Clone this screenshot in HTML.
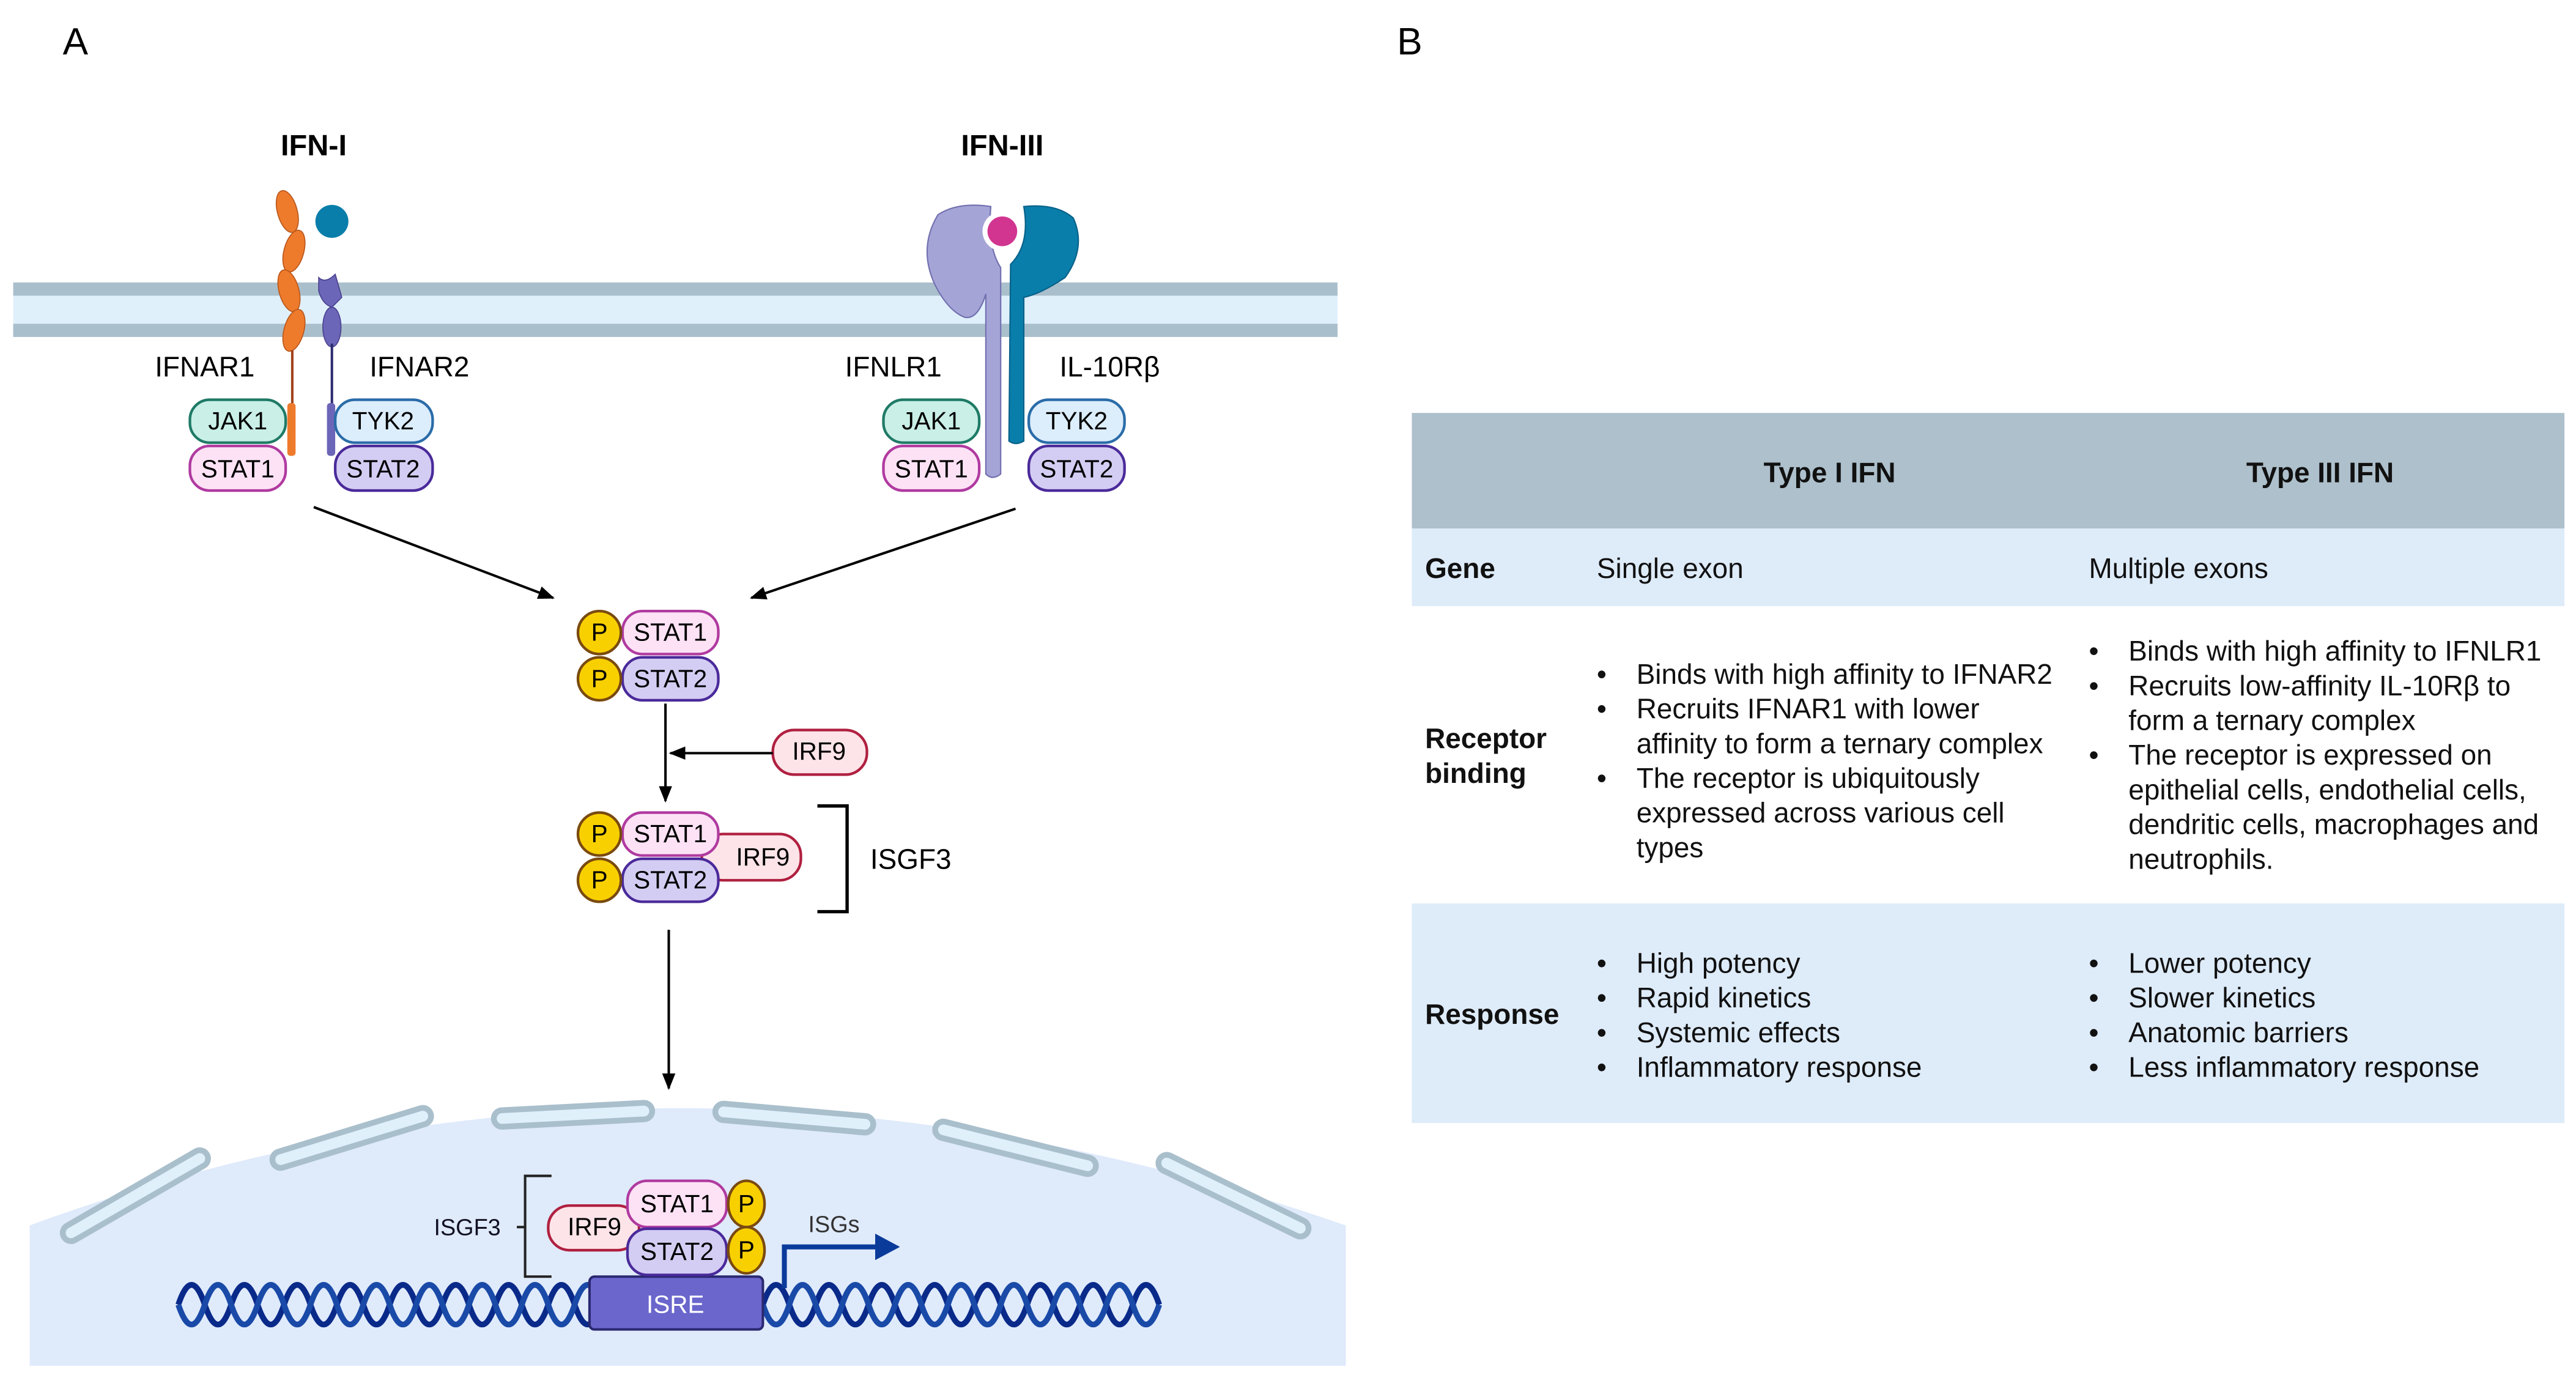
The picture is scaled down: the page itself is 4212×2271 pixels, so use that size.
<!DOCTYPE html>
<html><head><meta charset="utf-8"><style>
html,body{margin:0;padding:0;background:#fff;}
svg{display:block;}
text{font-family:"Liberation Sans",Arial,sans-serif;}
</style></head><body>
<svg width="4212" height="2271" viewBox="0 0 1560 841" xmlns="http://www.w3.org/2000/svg">
<defs>
<marker id="ah" markerWidth="10" markerHeight="8" refX="9" refY="4" orient="auto" markerUnits="userSpaceOnUse"><path d="M0,0 L10,4 L0,8 z" fill="#000"/></marker>
</defs>
<text x="38" y="33" font-size="23">A</text>
<text x="846" y="33" font-size="23">B</text>

<rect x="8" y="171" width="802" height="33" fill="#dff0fb"/>
<rect x="8" y="171" width="802" height="8" fill="#aabfcc"/>
<rect x="8" y="196" width="802" height="8" fill="#aabfcc"/>

<text x="190" y="94" font-size="18" font-weight="bold" text-anchor="middle">IFN-I</text>
<text x="607" y="94" font-size="18" font-weight="bold" text-anchor="middle">IFN-III</text>

<g fill="#ee7a2c" stroke="#b8561a" stroke-width="0.6">
<ellipse cx="174" cy="128" rx="6" ry="13" transform="rotate(-15 174 128)"/>
<ellipse cx="178" cy="152" rx="6" ry="13" transform="rotate(15 178 152)"/>
<ellipse cx="175" cy="176" rx="6" ry="13" transform="rotate(-15 175 176)"/>
<ellipse cx="178" cy="200" rx="6" ry="13" transform="rotate(15 178 200)"/>
</g>
<line x1="177" y1="212" x2="177" y2="275" stroke="#a0401a" stroke-width="1.5"/>
<rect x="174" y="244" width="5" height="32" rx="2" fill="#ee7a2c"/>
<circle cx="201" cy="134" r="10" fill="#0a7eaa"/>
<g fill="#6c66b8" stroke="#48408e" stroke-width="0.6">
<path d="M193,168 Q197,172 203,166 L207,180 L201,186 Q195,184 193,176 z"/>
<ellipse cx="201" cy="198" rx="5.5" ry="12"/>
</g>
<line x1="201" y1="208" x2="201" y2="275" stroke="#2c2a70" stroke-width="1.5"/>
<rect x="198" y="244" width="5" height="32" rx="2" fill="#6c66b8"/>

<text x="124" y="228" font-size="17" text-anchor="middle">IFNAR1</text>
<text x="254" y="228" font-size="17" text-anchor="middle">IFNAR2</text>

<g font-size="15" text-anchor="middle" stroke-width="1.6">
<rect x="115" y="242" width="58" height="26" rx="12" fill="#c9efe6" stroke="#1f7a66"/><text x="144" y="260">JAK1</text>
<rect x="115" y="270" width="58" height="27" rx="12" fill="#fde2f5" stroke="#b03aa0"/><text x="144" y="289">STAT1</text>
<rect x="203" y="242" width="59" height="26" rx="12" fill="#dcedfc" stroke="#2a6ca8"/><text x="232" y="260">TYK2</text>
<rect x="203" y="270" width="59" height="27" rx="12" fill="#d4cdf3" stroke="#4a2a9a"/><text x="232" y="289">STAT2</text>

<rect x="535" y="242" width="58" height="26" rx="12" fill="#c9efe6" stroke="#1f7a66"/><text x="564" y="260">JAK1</text>
<rect x="535" y="270" width="58" height="27" rx="12" fill="#fde2f5" stroke="#b03aa0"/><text x="564" y="289">STAT1</text>
<rect x="623" y="242" width="58" height="26" rx="12" fill="#dcedfc" stroke="#2a6ca8"/><text x="652" y="260">TYK2</text>
<rect x="623" y="270" width="58" height="27" rx="12" fill="#d4cdf3" stroke="#4a2a9a"/><text x="652" y="289">STAT2</text>
</g>

<path d="M597,195 L597,287 Q601,291 606,287 L606,162 Q598,150 600,125 Q580,122 568,130 Q556,150 566,172 Q574,188 584,192 Q592,194 597,178 z" fill="#a5a4d6" stroke="#7270b0" stroke-width="0.8"/>
<path d="M611,267 Q615,270 620,267 L620,180 Q630,178 645,168 Q658,150 650,132 Q640,123 620,125 Q624,148 612,160 z" fill="#0a7eaa" stroke="#07618a" stroke-width="0.8"/>
<circle cx="607" cy="140" r="12" fill="#fff"/>
<circle cx="607" cy="140" r="9" fill="#d13590"/>
<text x="541" y="228" font-size="17" text-anchor="middle">IFNLR1</text>
<text x="672" y="228" font-size="17" text-anchor="middle">IL-10Rβ</text>

<line x1="190" y1="307" x2="335" y2="362" stroke="#000" stroke-width="1.5" marker-end="url(#ah)"/>
<line x1="615" y1="308" x2="455" y2="362" stroke="#000" stroke-width="1.5" marker-end="url(#ah)"/>

<g font-size="15" text-anchor="middle" stroke-width="1.6">
<rect x="377" y="370" width="58" height="26" rx="12" fill="#fde2f5" stroke="#b03aa0"/><text x="406" y="388">STAT1</text>
<rect x="377" y="398" width="58" height="26" rx="12" fill="#d4cdf3" stroke="#4a2a9a"/><text x="406" y="416">STAT2</text>
<circle cx="363" cy="383" r="13" fill="#f8d000" stroke="#7a4a10"/><text x="363" y="388">P</text>
<circle cx="363" cy="411" r="13" fill="#f8d000" stroke="#7a4a10"/><text x="363" y="416">P</text>

<rect x="468" y="442" width="57" height="27" rx="13" fill="#fde4e8" stroke="#b02040"/><text x="496" y="460">IRF9</text>

<rect x="425" y="505" width="60" height="28" rx="13" fill="#fde4e8" stroke="#b02040"/><text x="462" y="524">IRF9</text>
<rect x="377" y="492" width="58" height="26" rx="12" fill="#fde2f5" stroke="#b03aa0"/><text x="406" y="510">STAT1</text>
<rect x="377" y="520" width="58" height="26" rx="12" fill="#d4cdf3" stroke="#4a2a9a"/><text x="406" y="538">STAT2</text>
<circle cx="363" cy="505" r="13" fill="#f8d000" stroke="#7a4a10"/><text x="363" y="510">P</text>
<circle cx="363" cy="533" r="13" fill="#f8d000" stroke="#7a4a10"/><text x="363" y="538">P</text>
</g>
<line x1="403" y1="426" x2="403" y2="485" stroke="#000" stroke-width="1.5" marker-end="url(#ah)"/>
<line x1="468" y1="456" x2="406" y2="456" stroke="#000" stroke-width="1.5" marker-end="url(#ah)"/>
<path d="M495,488 L513,488 L513,552 L495,552" fill="none" stroke="#000" stroke-width="2"/>
<text x="527" y="526" font-size="17">ISGF3</text>
<line x1="405" y1="563" x2="405" y2="659" stroke="#000" stroke-width="1.5" marker-end="url(#ah)"/>

<path d="M18,742 Q405,600 815,742 L815,827 L18,827 z" fill="#dfeafb"/>
<g fill="#dff0fb" stroke="#a9bfcc" stroke-width="3.5">
<rect x="-50" y="-5" width="100" height="10" rx="5" transform="translate(82,724) rotate(-30)"/>
<rect x="-50" y="-5" width="100" height="10" rx="5" transform="translate(213,689) rotate(-17)"/>
<rect x="-48" y="-5" width="96" height="10" rx="5" transform="translate(347,675) rotate(-3)"/>
<rect x="-48" y="-5" width="96" height="10" rx="5" transform="translate(481,677) rotate(5)"/>
<rect x="-50" y="-5" width="100" height="10" rx="5" transform="translate(615,695) rotate(14)"/>
<rect x="-50" y="-5" width="100" height="10" rx="5" transform="translate(747,724) rotate(26)"/>
</g>
<g fill="none" stroke-width="3.5">
<path d="M108,790 q8,-24 16,0 t16,0 t16,0 t16,0 t16,0 t16,0 t16,0 t16,0 t16,0 t16,0 t16,0 t16,0 t16,0 t16,0 t16,0 t16,0" stroke="#0a2a8a"/>
<path d="M108,790 q8,24 16,0 t16,0 t16,0 t16,0 t16,0 t16,0 t16,0 t16,0 t16,0 t16,0 t16,0 t16,0 t16,0 t16,0 t16,0 t16,0" stroke="#1a4aa8"/>
<path d="M462,790 q8,-24 16,0 t16,0 t16,0 t16,0 t16,0 t16,0 t16,0 t16,0 t16,0 t16,0 t16,0 t16,0 t16,0 t16,0 t16,0" stroke="#0a2a8a"/>
<path d="M462,790 q8,24 16,0 t16,0 t16,0 t16,0 t16,0 t16,0 t16,0 t16,0 t16,0 t16,0 t16,0 t16,0 t16,0 t16,0 t16,0" stroke="#1a4aa8"/>
</g>
<rect x="357" y="773" width="105" height="32" rx="3" fill="#6a66cc" stroke="#2a2870" stroke-width="1.5"/>
<text x="409" y="795" font-size="15" fill="#fff" text-anchor="middle">ISRE</text>
<path d="M475,780 L475,755 L532,755" fill="none" stroke="#0a3a9a" stroke-width="3"/>
<path d="M530,747 L545,755 L530,763 z" fill="#0a3a9a"/>
<text x="505" y="746" font-size="14" fill="#333" text-anchor="middle">ISGs</text>

<g font-size="15" text-anchor="middle" stroke-width="1.6">
<rect x="332" y="730" width="55" height="27" rx="13" fill="#fde4e8" stroke="#b02040"/><text x="360" y="748">IRF9</text>
<rect x="380" y="715" width="60" height="28" rx="12" fill="#fde2f5" stroke="#b03aa0"/><text x="410" y="734">STAT1</text>
<rect x="380" y="744" width="60" height="28" rx="12" fill="#d4cdf3" stroke="#4a2a9a"/><text x="410" y="763">STAT2</text>
<ellipse cx="452" cy="729" rx="11" ry="14" fill="#f8d000" stroke="#7a4a10"/><text x="452" y="734">P</text>
<ellipse cx="452" cy="757" rx="11" ry="14" fill="#f8d000" stroke="#7a4a10"/><text x="452" y="762">P</text>
</g>
<path d="M334,712 L318,712 L318,773 L334,773" fill="none" stroke="#222" stroke-width="1.5"/>
<line x1="313" y1="743" x2="318" y2="743" stroke="#222" stroke-width="1.5"/>
<text x="283" y="748" font-size="14" fill="#112" text-anchor="middle">ISGF3</text>

<rect x="855" y="250" width="698" height="70" fill="#adc0cc"/>
<rect x="855" y="320" width="698" height="47" fill="#deebf9"/>
<rect x="855" y="547" width="698" height="133" fill="#deebf9"/>
<g font-size="17" fill="#111">
<text x="1108" y="292" font-weight="bold" text-anchor="middle">Type I IFN</text>
<text x="1405" y="292" font-weight="bold" text-anchor="middle">Type III IFN</text>
<text x="863" y="350" font-weight="bold">Gene</text>
<text x="967" y="350">Single exon</text>
<text x="1265" y="350">Multiple exons</text>
<text x="863" y="453" font-weight="bold">Receptor</text>
<text x="863" y="474" font-weight="bold">binding</text>
<text x="863" y="620" font-weight="bold">Response</text>
<text x="967" y="414">•</text><text x="991" y="414">Binds with high affinity to IFNAR2</text>
<text x="967" y="435">•</text><text x="991" y="435">Recruits IFNAR1 with lower</text>
<text x="991" y="456">affinity to form a ternary complex</text>
<text x="967" y="477">•</text><text x="991" y="477">The receptor is ubiquitously</text>
<text x="991" y="498">expressed across various cell</text>
<text x="991" y="519">types</text>
<text x="1265" y="400">•</text><text x="1289" y="400">Binds with high affinity to IFNLR1</text>
<text x="1265" y="421">•</text><text x="1289" y="421">Recruits low-affinity IL-10Rβ to</text>
<text x="1289" y="442">form a ternary complex</text>
<text x="1265" y="463">•</text><text x="1289" y="463">The receptor is expressed on</text>
<text x="1289" y="484">epithelial cells, endothelial cells,</text>
<text x="1289" y="505">dendritic cells, macrophages and</text>
<text x="1289" y="526">neutrophils.</text>
<text x="967" y="589">•</text><text x="991" y="589">High potency</text>
<text x="967" y="610">•</text><text x="991" y="610">Rapid kinetics</text>
<text x="967" y="631">•</text><text x="991" y="631">Systemic effects</text>
<text x="967" y="652">•</text><text x="991" y="652">Inflammatory response</text>
<text x="1265" y="589">•</text><text x="1289" y="589">Lower potency</text>
<text x="1265" y="610">•</text><text x="1289" y="610">Slower kinetics</text>
<text x="1265" y="631">•</text><text x="1289" y="631">Anatomic barriers</text>
<text x="1265" y="652">•</text><text x="1289" y="652">Less inflammatory response</text>
</g>
</svg>
</body></html>
